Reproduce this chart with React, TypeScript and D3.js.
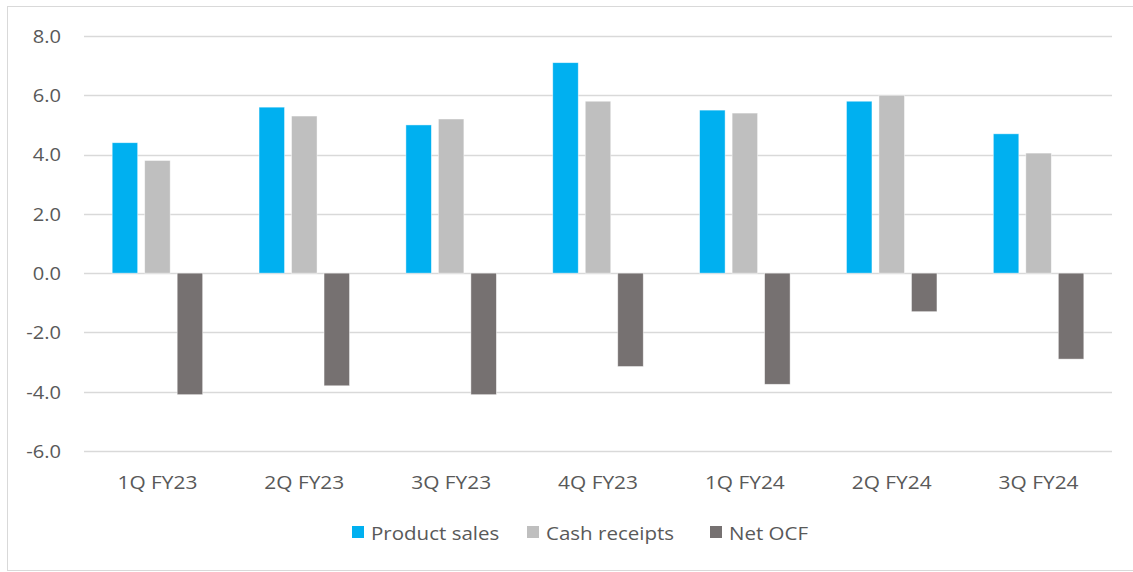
import React from "react";
import * as d3 from "d3";

const categories = ["1Q FY23", "2Q FY23", "3Q FY23", "4Q FY23", "1Q FY24", "2Q FY24", "3Q FY24"];
const seriesNames = ["Product sales", "Cash receipts", "Net OCF"];
const productSales = [4.4, 5.6, 5.0, 7.1, 5.5, 5.8, 4.7];
const cashReceipts = [3.8, 5.3, 5.2, 5.8, 5.4, 6.0, 4.05];
const netOCF = [-4.1, -3.8, -4.1, -3.15, -3.75, -1.3, -2.9];
const yTicks = [-6, -4, -2, 0, 2, 4, 6, 8];
const colors = ["#00B0F0", "#BFBFBF", "#767171"];

const W = 1133;
const H = 572;
const FONT = "'Open Sans', 'Noto Sans', sans-serif";

function Label({ x, y, anchor, size, sx, children }: any) {
  return (
    <text
      transform={`translate(${x},${y}) scale(${sx},1)`}
      dy="0.36em"
      textAnchor={anchor}
      fontFamily={FONT}
      fontSize={size}
      fill="#595959"
    >
      {children}
    </text>
  );
}

export default function App() {
  const series = [productSales, cashReceipts, netOCF];
  const x = d3.scaleBand<string>().domain(categories).range([84, 1112]);
  const y = d3.scaleLinear().domain([-6, 8]).range([451, 36]);
  const barW = 25.5;
  const step = 32.5;
  const fmt = (t: number) => t.toFixed(1);

  return (
    <svg width={W} height={H} style={{ position: "absolute", left: 0, top: 0, background: "#fff" }}>
      <rect x={7.5} y={6.5} width={W + 10} height={H - 8} fill="#fff" stroke="#d9d9d9" strokeWidth={1} />
      {yTicks.map((t) => (
        <g key={t}>
          <line x1={84} x2={1112} y1={Math.round(y(t)) + 0.5} y2={Math.round(y(t)) + 0.5} stroke="#d9d9d9" strokeWidth={1.3} />
          <Label x={61} y={y(t)} anchor="end" size={19} sx={1.06}>
            {fmt(t)}
          </Label>
        </g>
      ))}
      {categories.map((c, i) => {
        const cx = (x(c) as number) + x.bandwidth() / 2;
        return (
          <g key={c}>
            {series.map((s, k) => {
              const v = s[i];
              const bx = cx + (k - 1) * step - barW / 2;
              const y0 = y(0);
              const y1 = y(v);
              return (
                <rect
                  key={k}
                  x={bx}
                  y={Math.min(y0, y1)}
                  width={barW}
                  height={Math.abs(y1 - y0)}
                  fill={colors[k]}
                  stroke="#ffffff"
                  strokeOpacity={0.6}
                  strokeWidth={0.75}
                />
              );
            })}
            <Label x={cx} y={483} anchor="middle" size={18} sx={1.16}>
              {c}
            </Label>
          </g>
        );
      })}
      {(() => {
        const starts = [352, 527, 710];
        return seriesNames.map((n, k) => (
          <g key={n}>
            <rect x={starts[k]} y={526} width={12} height={12} fill={colors[k]} />
            <Label x={starts[k] + 19} y={534} anchor="start" size={18} sx={1.14}>
              {n}
            </Label>
          </g>
        ));
      })()}
    </svg>
  );
}
